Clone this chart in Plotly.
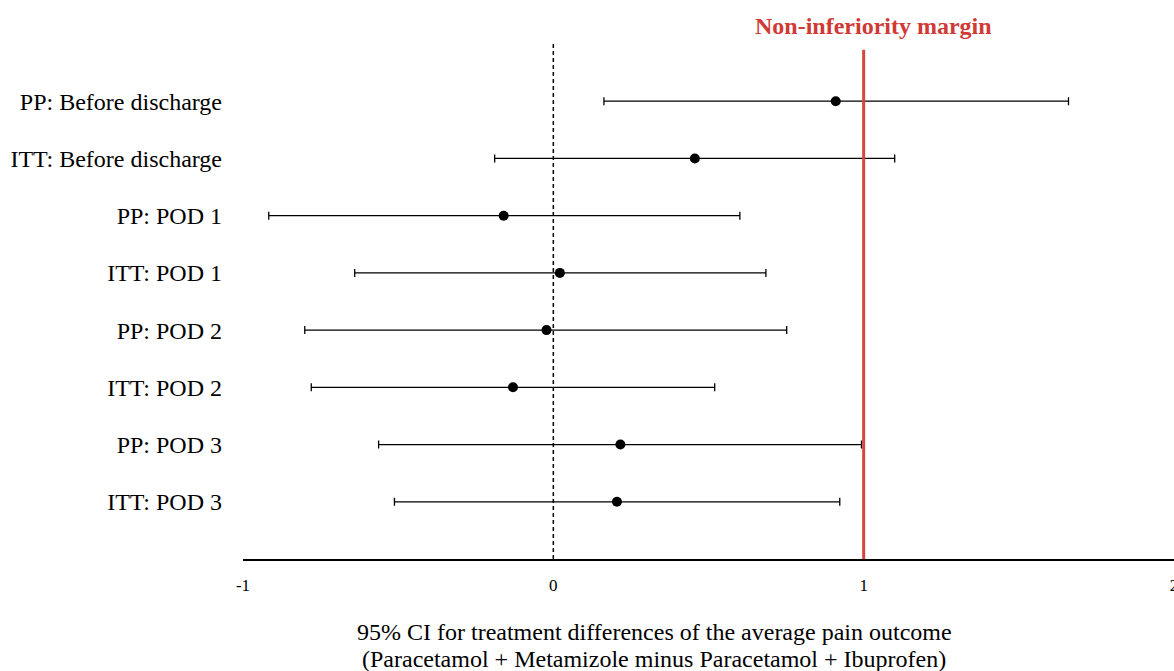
import plotly.graph_objects as go

labels = ["PP: Before discharge", "ITT: Before discharge", "PP: POD 1", "ITT: POD 1",
          "PP: POD 2", "ITT: POD 2", "PP: POD 3", "ITT: POD 3"]
estimate = [0.910, 0.456, -0.160, 0.021, -0.022, -0.130, 0.216, 0.205]
lower = [0.163, -0.189, -0.917, -0.640, -0.801, -0.780, -0.563, -0.512]
upper = [1.660, 1.100, 0.601, 0.685, 0.752, 0.520, 0.993, 0.923]
x_ticks = [-1, 0, 1, 2]
margin_value = 1
xtitle_lines = ["95% CI for treatment differences of the average pain outcome",
                "(Paracetamol + Metamizole minus Paracetamol + Ibuprofen)"]

ypos = list(range(len(labels), 0, -1))
err_plus = [u - e for u, e in zip(upper, estimate)]
err_minus = [e - l for e, l in zip(estimate, lower)]

font_fam = "Liberation Serif, Times New Roman, serif"

W, H = 1174, 671
L, R, T, B = 243, 0, 44, 112
ph = H - T - B
pw = W - L - R

fig = go.Figure()
fig.add_trace(go.Scatter(
    x=estimate, y=ypos, mode="markers",
    marker=dict(color="black", size=10),
    error_x=dict(type="data", symmetric=False, array=err_plus, arrayminus=err_minus,
                 color="black", thickness=1.3, width=4),
    showlegend=False, hoverinfo="x+y"
))

# zero reference line
fig.add_shape(type="line", xref="x", yref="y", x0=0, x1=0, y0=0, y1=9,
              line=dict(color="black", width=1.5, dash="4px,3px"))
# non-inferiority margin
fig.add_shape(type="line", xref="x", yref="y", x0=margin_value, x1=margin_value, y0=0, y1=8.9,
              line=dict(color="#d6453f", width=3))

fig.add_annotation(x=(873.5 - L) / pw, y=1 + (T - 26) / ph, xref="paper", yref="paper",
                   text="<b>Non-inferiority margin</b>", showarrow=False,
                   xanchor="center", yanchor="middle",
                   font=dict(family=font_fam, size=24, color="#d03a35"))

for line_text, cy in zip(xtitle_lines, [632, 659]):
    fig.add_annotation(x=(654 - L) / pw, y=-(cy - (H - B)) / ph, xref="paper", yref="paper",
                       text=line_text, showarrow=False, xanchor="center", yanchor="middle",
                       align="center", font=dict(family=font_fam, size=24, color="black"))

fig.update_layout(
    width=W, height=H,
    margin=dict(l=L, r=R, t=T, b=B, autoexpand=False),
    paper_bgcolor="white", plot_bgcolor="white",
    font=dict(family=font_fam, color="black"),
    xaxis=dict(range=[-1, 2], tickvals=x_ticks, ticktext=[str(v) for v in x_ticks],
               showgrid=False, zeroline=False, showline=True, linecolor="black", linewidth=1.5,
               ticks="", tickfont=dict(size=17, family=font_fam), ticklabelstandoff=10,
               ticklabeloverflow="allow", automargin=False),
    yaxis=dict(range=[0, 9], tickvals=ypos, ticktext=labels, showgrid=False, zeroline=False,
               showline=False, ticks="", tickfont=dict(size=24, family=font_fam),
               ticklabelstandoff=20, automargin=False),
)

fig.write_html("out.html", config={"displayModeBar": False},
               post_script="document.body.style.margin='0';document.body.style.overflow='hidden';")
